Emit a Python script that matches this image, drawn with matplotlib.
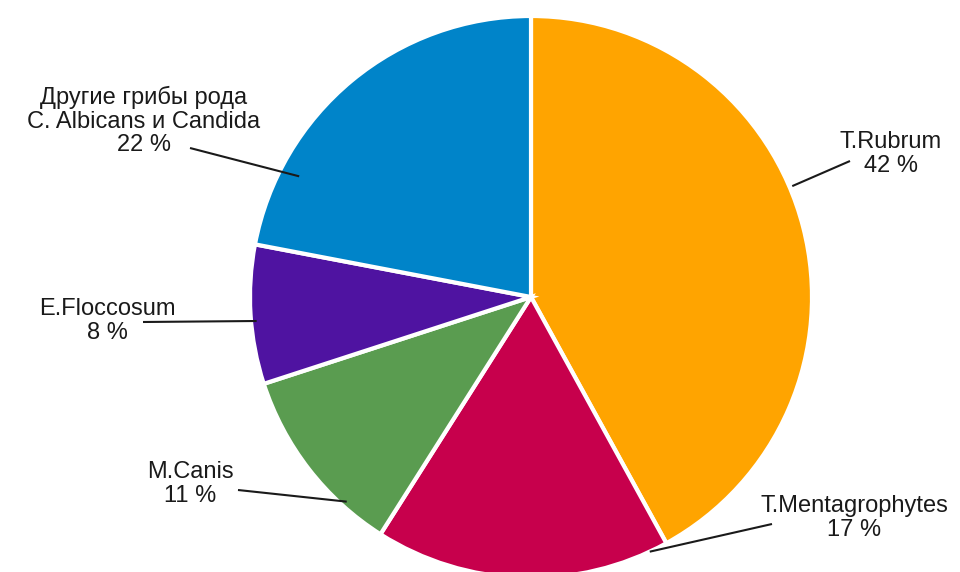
import numpy as np
import matplotlib
matplotlib.use("Agg")
import matplotlib.pyplot as plt

plt.rcParams['font.family'] = ['Liberation Sans', 'DejaVu Sans']

# Pathogen shares, clockwise from 12 o'clock
labels = ["T.Rubrum", "T.Mentagrophytes", "M.Canis", "E.Floccosum",
          "Другие грибы рода\nC. Albicans и Candida"]
shares = [42, 17, 11, 8, 22]
colors = ["#FFA400", "#C7004C", "#5A9C50", "#4F13A1", "#0084C9"]

W, H = 960, 572
cx, cy, R = 531, 572 - 297, 281

fig = plt.figure(figsize=(W / 100, H / 100), dpi=100)
ax = fig.add_axes([0, 0, 1, 1])
ax.pie(shares, colors=colors, startangle=90, counterclock=False,
       center=(cx, cy), radius=R,
       wedgeprops=dict(edgecolor="white", linewidth=3))
ax.set_xlim(0, W)
ax.set_ylim(0, H)
ax.set_aspect("equal")
ax.axis("off")

# label placement: text centre, leader-line start, anchor angle on the rim
layout = [
    ((891, 572 - 154), (850, 572 - 161), 23.0, 1.01),
    ((854, 572 - 518), (772, 572 - 524), -65.0, 1.0),
    ((190, 572 - 484), (238, 572 - 490), -132.0, 0.98),
    ((107, 572 - 321), (143, 572 - 322), 185.0, 0.98),
    ((144, 572 - 121), (190, 572 - 148), 152.5, 0.93),
]

for name, val, (tpos, lstart, ang, rf) in zip(labels, shares, layout):
    ax.text(tpos[0], tpos[1], f"{name}\n{val} %", ha="center", va="center",
            fontsize=17, color="#1a1a1a", linespacing=1.08)
    a = np.deg2rad(ang)
    ex, ey = cx + R * rf * np.cos(a), cy + R * rf * np.sin(a)
    ax.plot([lstart[0], ex], [lstart[1], ey], color="#1a1a1a", lw=1.5,
            solid_capstyle="butt")

fig.savefig("out.png", dpi=100, facecolor="white")
